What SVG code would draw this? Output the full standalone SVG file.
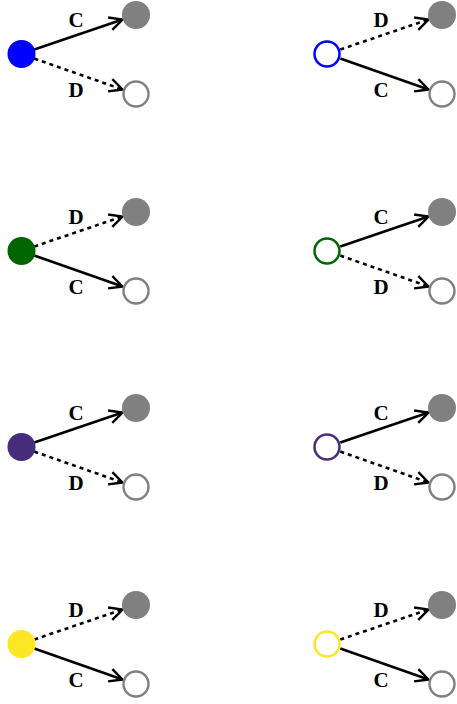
<svg xmlns="http://www.w3.org/2000/svg" width="457" height="704" viewBox="0 0 457 704">
<defs>
<style>
.e{stroke:#000;stroke-width:2.6;fill:none;marker-end:url(#a)}
.d{stroke-dasharray:4 4}
.t{fill:#808080}
.h{fill:#fff;stroke:#808080;stroke-width:2.4}
.l{font-family:"Liberation Serif",serif;font-weight:bold;font-size:21px;text-anchor:middle;fill:#000}
</style>
<marker id="a" viewBox="0 0 16 16" refX="14.5" refY="8" markerWidth="16" markerHeight="16" markerUnits="userSpaceOnUse" orient="auto">
<path d="M1.5,1.5 L14.5,8 L1.5,14.5" fill="none" stroke="#000" stroke-width="2.4"/>
</marker>
</defs>
<g id="connectors">
<g transform="translate(0,0)">
<line class="e" x1="34.3" y1="49.5" x2="122.5" y2="19.5"/>
<line class="e d" x1="34.3" y1="58.6" x2="122.5" y2="89.5"/>
</g>
<g transform="translate(306,0)">
<line class="e d" x1="34.3" y1="49.5" x2="122.5" y2="19.5"/>
<line class="e" x1="34.3" y1="58.6" x2="122.5" y2="89.5"/>
</g>
<g transform="translate(0,197)">
<line class="e d" x1="34.3" y1="49.5" x2="122.5" y2="19.5"/>
<line class="e" x1="34.3" y1="58.6" x2="122.5" y2="89.5"/>
</g>
<g transform="translate(306,197)">
<line class="e" x1="34.3" y1="49.5" x2="122.5" y2="19.5"/>
<line class="e d" x1="34.3" y1="58.6" x2="122.5" y2="89.5"/>
</g>
<g transform="translate(0,393)">
<line class="e" x1="34.3" y1="49.5" x2="122.5" y2="19.5"/>
<line class="e d" x1="34.3" y1="58.6" x2="122.5" y2="89.5"/>
</g>
<g transform="translate(306,393)">
<line class="e" x1="34.3" y1="49.5" x2="122.5" y2="19.5"/>
<line class="e d" x1="34.3" y1="58.6" x2="122.5" y2="89.5"/>
</g>
<g transform="translate(0,590)">
<line class="e d" x1="34.3" y1="49.5" x2="122.5" y2="19.5"/>
<line class="e" x1="34.3" y1="58.6" x2="122.5" y2="89.5"/>
</g>
<g transform="translate(306,590)">
<line class="e d" x1="34.3" y1="49.5" x2="122.5" y2="19.5"/>
<line class="e" x1="34.3" y1="58.6" x2="122.5" y2="89.5"/>
</g>
</g>
<g id="labels">
<text class="l" x="76" y="27">C</text><text class="l" x="76" y="97">D</text>
<text class="l" x="381" y="27">D</text><text class="l" x="381" y="97">C</text>
<text class="l" x="76" y="224">D</text><text class="l" x="76" y="294">C</text>
<text class="l" x="381" y="224">C</text><text class="l" x="381" y="294">D</text>
<text class="l" x="76" y="420">C</text><text class="l" x="76" y="490">D</text>
<text class="l" x="381" y="420">C</text><text class="l" x="381" y="490">D</text>
<text class="l" x="76" y="617">D</text><text class="l" x="76" y="687">C</text>
<text class="l" x="381" y="617">D</text><text class="l" x="381" y="687">C</text>
</g>
<g id="n1"><circle cx="21.5" cy="54" r="14" fill="#0000ff"/></g>
<g id="n1a"><circle class="t" cx="136" cy="15" r="14"/></g>
<g id="n1b"><circle class="h" cx="136" cy="94" r="12.5"/></g>
<g id="n2"><circle cx="327" cy="54" r="12.5" fill="#fff" stroke="#0000ff" stroke-width="2.5"/></g>
<g id="n2a"><circle class="t" cx="442" cy="15" r="14"/></g>
<g id="n2b"><circle class="h" cx="442" cy="94" r="12.5"/></g>
<g id="n3"><circle cx="21.5" cy="251" r="14" fill="#006400"/></g>
<g id="n3a"><circle class="t" cx="136" cy="212" r="14"/></g>
<g id="n3b"><circle class="h" cx="136" cy="291" r="12.5"/></g>
<g id="n4"><circle cx="327" cy="251" r="12.5" fill="#fff" stroke="#006400" stroke-width="2.5"/></g>
<g id="n4a"><circle class="t" cx="442" cy="212" r="14"/></g>
<g id="n4b"><circle class="h" cx="442" cy="291" r="12.5"/></g>
<g id="n5"><circle cx="21.5" cy="447" r="14" fill="#472d7b"/></g>
<g id="n5a"><circle class="t" cx="136" cy="408" r="14"/></g>
<g id="n5b"><circle class="h" cx="136" cy="487" r="12.5"/></g>
<g id="n6"><circle cx="327" cy="447" r="12.5" fill="#fff" stroke="#472d7b" stroke-width="2.5"/></g>
<g id="n6a"><circle class="t" cx="442" cy="408" r="14"/></g>
<g id="n6b"><circle class="h" cx="442" cy="487" r="12.5"/></g>
<g id="n7"><circle cx="21.5" cy="644" r="14" fill="#fde725"/></g>
<g id="n7a"><circle class="t" cx="136" cy="605" r="14"/></g>
<g id="n7b"><circle class="h" cx="136" cy="684" r="12.5"/></g>
<g id="n8"><circle cx="327" cy="644" r="12.5" fill="#fff" stroke="#fde725" stroke-width="2.5"/></g>
<g id="n8a"><circle class="t" cx="442" cy="605" r="14"/></g>
<g id="n8b"><circle class="h" cx="442" cy="684" r="12.5"/></g>
</svg>
